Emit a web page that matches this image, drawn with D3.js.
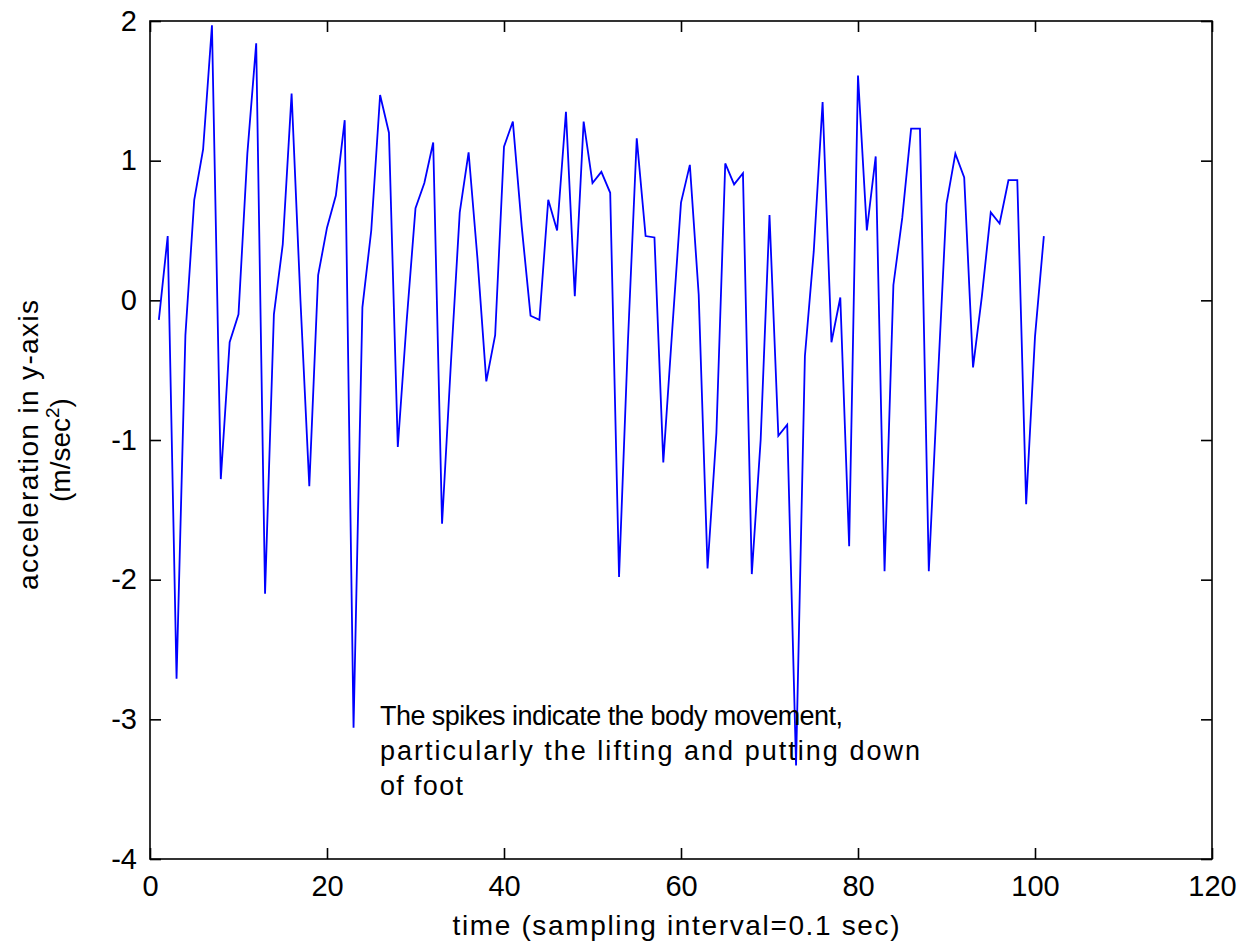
<!DOCTYPE html>
<html>
<head>
<meta charset="utf-8">
<script src="https://cdn.jsdelivr.net/npm/d3@7"></script>
<style>
body { margin:0; background:#fff; }
svg text { font-family: "Liberation Sans", Arial, sans-serif; fill:#000; }
</style>
</head>
<body>
<div id="chart"></div>
<script>

//******************************************************************************
//**  Data
//******************************************************************************
var sampleIndex = d3.range(1, 102);

var accelY = [
    -0.14, 0.46, -2.71, -0.25, 0.72, 1.08, 1.97, -1.28, -0.30, -0.10,
     1.05, 1.84, -2.10, -0.10, 0.40, 1.48, 0.00, -1.33, 0.18, 0.52,
     0.75, 1.29, -3.06, -0.05, 0.50, 1.47, 1.20, -1.05, -0.15, 0.66,
     0.84, 1.13, -1.60, -0.45, 0.63, 1.06, 0.30, -0.58, -0.25, 1.10,
     1.28, 0.53, -0.11, -0.14, 0.72, 0.50, 1.35, 0.03, 1.28, 0.84,
     0.92, 0.77, -1.98, -0.30, 1.16, 0.46, 0.45, -1.16, -0.22, 0.70,
     0.97, 0.04, -1.92, -0.95, 0.98, 0.83, 0.91, -1.96, -1.00, 0.61,
    -0.97, -0.89, -3.33, -0.40, 0.35, 1.42, -0.30, 0.02, -1.76, 1.61,
     0.50, 1.03, -1.94, 0.11, 0.59, 1.23, 1.23, -1.94, -0.60, 0.69,
     1.05, 0.88, -0.48, 0.03, 0.63, 0.55, 0.86, 0.86, -1.46, -0.26,
     0.46
];

var xTicks = [0, 20, 40, 60, 80, 100, 120];
var yTicks = [-4, -3, -2, -1, 0, 1, 2];

var xLabel = "time (sampling interval=0.1 sec)";
var yLabel = "acceleration in y-axis";
var noteLines = [
    "The spikes indicate the body movement,",
    "particularly the lifting and putting down",
    "of foot"
];
var noteWidths = [463, 540, 83];


//******************************************************************************
//**  Chart
//******************************************************************************
var width = 1241, height = 947;
var margin = {top: 21, right: 29, bottom: 88, left: 150};
var plotW = width - margin.left - margin.right;
var plotH = height - margin.top - margin.bottom;

var svg = d3.select("#chart").append("svg")
    .attr("width", width)
    .attr("height", height);

var g = svg.append("g")
    .attr("transform", "translate(" + margin.left + "," + margin.top + ")");

var x = d3.scaleLinear().domain([0, 120]).range([0, plotW]);
var y = d3.scaleLinear().domain([-4, 2]).range([plotH, 0]);


  //**************************************************************************
  //** axes (matlab style: ticks inside, box all round)
  //**************************************************************************
    var tickLen = 11;
    var plain = function(d){ return String(d); }; // keep "-" not unicode minus

    var bottomAxis = d3.axisBottom(x).tickValues(xTicks).tickSize(-tickLen).tickPadding(16).tickFormat(plain);
    var leftAxis = d3.axisLeft(y).tickValues(yTicks).tickSize(-tickLen).tickPadding(13).tickFormat(plain);
    var topAxis = d3.axisTop(x).tickValues(xTicks).tickSize(-tickLen).tickFormat("");
    var rightAxis = d3.axisRight(y).tickValues(yTicks).tickSize(-tickLen).tickFormat("");

    var styleAxis = function(sel){
        sel.select(".domain").remove();
        sel.selectAll("line").attr("stroke", "#000").attr("stroke-width", 1.6);
        sel.selectAll("text")
            .style("font-size", "29px")
            .style("font-family", "'Liberation Sans', Arial, sans-serif");
    };

    g.append("g").attr("transform", "translate(0," + plotH + ")").call(bottomAxis).call(styleAxis);
    g.append("g").call(leftAxis).call(styleAxis);
    g.append("g").call(topAxis).call(styleAxis);
    g.append("g").attr("transform", "translate(" + plotW + ",0)").call(rightAxis).call(styleAxis);

    g.append("rect")
        .attr("x", 0).attr("y", 0)
        .attr("width", plotW).attr("height", plotH)
        .attr("fill", "none")
        .attr("stroke", "#000")
        .attr("stroke-width", 1.6);


  //**************************************************************************
  //** line
  //**************************************************************************
    var line = d3.line()
        .x(function(d, i){ return x(sampleIndex[i]); })
        .y(function(d){ return y(d); });

    g.append("path")
        .datum(accelY)
        .attr("fill", "none")
        .attr("stroke", "#0000ff")
        .attr("stroke-width", 1.8)
        .attr("stroke-linejoin", "miter")
        .attr("d", line);


  //**************************************************************************
  //** labels
  //**************************************************************************
    svg.append("text")
        .attr("x", 676)
        .attr("y", 935)
        .attr("text-anchor", "middle")
        .attr("textLength", 447)
        .style("font-size", "28px")
        .text(xLabel);

    var yl = svg.append("g").attr("transform", "translate(38,445) rotate(-90)");
    yl.append("text")
        .attr("x", 0).attr("y", 0)
        .attr("text-anchor", "middle")
        .attr("textLength", 290)
        .style("font-size", "28px")
        .text(yLabel);

    var unit = yl.append("text")
        .attr("x", -5).attr("y", 32)
        .attr("text-anchor", "middle")
        .style("font-size", "28px");
    unit.append("tspan").text("(m/sec");
    unit.append("tspan").attr("dy", -11).style("font-size", "19px").text("2");
    unit.append("tspan").attr("dy", 11).text(")");

    var note = svg.append("text")
        .attr("x", 380)
        .attr("y", 725)
        .style("font-size", "27px");
    noteLines.forEach(function(t, i){
        note.append("tspan")
            .attr("x", 380)
            .attr("dy", i === 0 ? 0 : 35)
            .attr("textLength", noteWidths[i])
            .text(t);
    });

</script>
</body>
</html>
